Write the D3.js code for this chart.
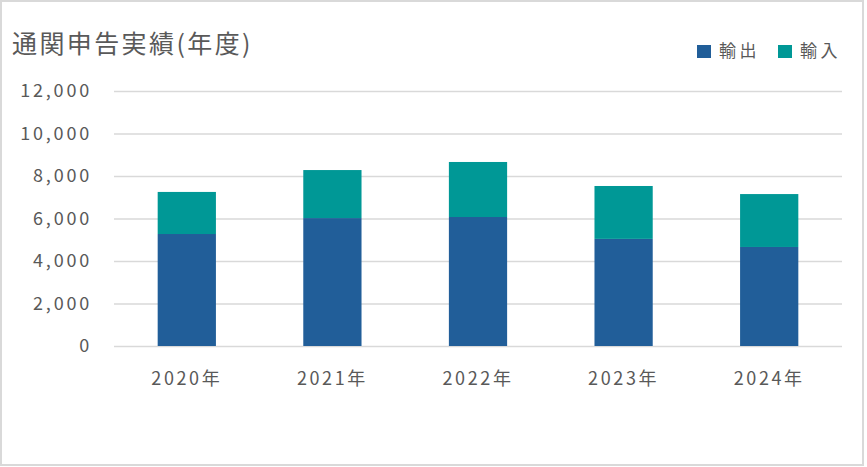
<!DOCTYPE html>
<html>
<head>
<meta charset="utf-8">
<script src="https://cdn.jsdelivr.net/npm/d3@7"></script>
<style>
  body { margin: 0; background: #fff; }
  text { font-family: "Noto Sans CJK JP", "Noto Sans", sans-serif; fill: #595959; }
</style>
</head>
<body>
<script>
// chart data
var years = ["2020年", "2021年", "2022年", "2023年", "2024年"];
var exportValues = [5270, 6020, 6070, 5040, 4660];   // 輸出
var importValues = [1980, 2260, 2590, 2490, 2490];   // 輸入
var yTicks = [0, 2000, 4000, 6000, 8000, 10000, 12000];
var seriesNames = ["輸出", "輸入"];
var seriesColors = ["#215e99", "#009896"];

var svgWidth = 867;
var svgHeight = 467;

var margin = { top: 91, right: 25, bottom: 121, left: 114 };
var chartWidth = svgWidth - margin.left - margin.right;
var chartHeight = svgHeight - margin.top - margin.bottom;

var svg = d3.select("body")
  .append("svg")
  .attr("width", svgWidth)
  .attr("height", svgHeight);

// outer frame
svg.append("rect")
  .attr("x", 1)
  .attr("y", 1)
  .attr("width", 862)
  .attr("height", 464)
  .attr("fill", "#fff")
  .attr("stroke", "#d9d9d9")
  .attr("stroke-width", 2);

var chartGroup = svg.append("g")
  .attr("transform", `translate(${margin.left}, ${margin.top})`);

// build stacked rows
var rows = years.map(function(y, i) {
  return { year: y, export: exportValues[i], import: importValues[i] };
});
var stack = d3.stack().keys(["export", "import"]);
var stacked = stack(rows);

var xScale = d3.scaleBand()
  .domain(years)
  .range([0, chartWidth])
  .paddingInner(0.6)
  .paddingOuter(0.3);

var yScale = d3.scaleLinear()
  .domain([0, 12000])
  .range([chartHeight, 0]);

// gridlines
var leftAxis = d3.axisLeft(yScale)
  .tickValues(yTicks)
  .tickSize(-chartWidth)
  .tickFormat("");

var grid = chartGroup.append("g").call(leftAxis);
grid.select(".domain").remove();
grid.selectAll("line")
  .attr("stroke", "#d9d9d9")
  .attr("stroke-width", 1.5);

// y tick labels
chartGroup.selectAll(".ylabel")
  .data(yTicks)
  .enter()
  .append("text")
  .attr("class", "ylabel")
  .attr("x", -22)
  .attr("y", d => yScale(d) - 2)
  .attr("dominant-baseline", "central")
  .attr("text-anchor", "end")
  .attr("font-size", 18)
  .attr("letter-spacing", 2.8)
  .text(d3.format(","));

// bars
chartGroup.selectAll(".series")
  .data(stacked)
  .enter()
  .append("g")
  .attr("class", "series")
  .attr("fill", (d, i) => seriesColors[i])
  .selectAll("rect")
  .data(d => d)
  .enter()
  .append("rect")
  .attr("x", d => xScale(d.data.year))
  .attr("y", d => yScale(d[1]))
  .attr("width", xScale.bandwidth())
  .attr("height", d => yScale(d[0]) - yScale(d[1]));

// x labels
var bottomAxis = d3.axisBottom(xScale).tickSize(0);
var xAxis = chartGroup.append("g")
  .attr("transform", `translate(0, ${chartHeight})`)
  .call(bottomAxis);
xAxis.select(".domain").remove();
xAxis.selectAll("text")
  .attr("y", 31)
  .attr("dy", null)
  .attr("dominant-baseline", "central")
  .attr("font-size", 18)
  .attr("letter-spacing", 2.6)
  .attr("fill", "#595959")
  .attr("font-family", null);

// title
svg.append("text")
  .attr("x", 12)
  .attr("y", 42)
  .attr("dominant-baseline", "central")
  .attr("font-size", 25)
  .attr("letter-spacing", 2.4)
  .text("通関申告実績(年度)");

// legend
var legendX = [697, 778];
var legend = svg.selectAll(".legend")
  .data(seriesNames)
  .enter()
  .append("g")
  .attr("class", "legend")
  .attr("transform", (d, i) => `translate(${legendX[i]}, 45)`);

legend.append("rect")
  .attr("width", 14)
  .attr("height", 13)
  .attr("fill", (d, i) => seriesColors[i]);

legend.append("text")
  .attr("x", 22)
  .attr("y", 4)
  .attr("dominant-baseline", "central")
  .attr("font-size", 17)
  .attr("letter-spacing", 3.5)
  .text(d => d);
</script>
</body>
</html>
